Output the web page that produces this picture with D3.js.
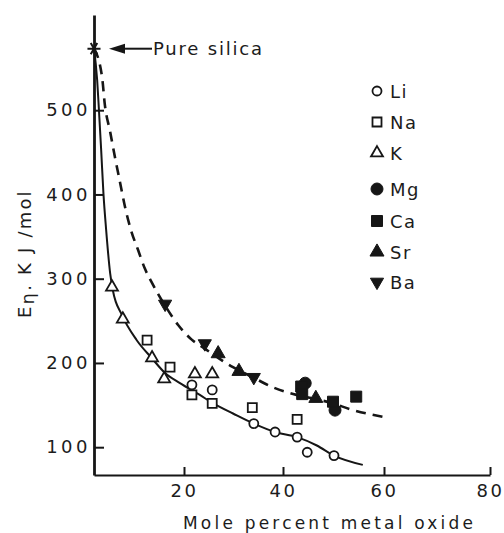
<!DOCTYPE html>
<html>
<head>
<meta charset="utf-8">
<script src="https://cdn.jsdelivr.net/npm/d3@7"></script>
<style>
  body { margin: 0; background: #fff; }
  text { font-family: "DejaVu Sans", sans-serif; fill: #1c1c1c; }
</style>
</head>
<body>
<svg id="chart"></svg>
<script>
// values: [mole percent metal oxide, activation energy kJ/mol]
const li = [[21.6,174],[25.7,168],[34.1,128],[38.4,118],[42.8,112],[44.8,94],[50.1,90]];
const na = [[11.8,227],[16.9,195],[21.6,162],[25.7,152],[33.8,147],[42.8,133]];
const k  = [[4.0,290],[6.4,252],[12.9,206],[15.6,181],[22.2,187],[25.7,187]];
const mg = [[44.4,176],[50.3,144]];
const ca = [[43.6,172],[43.8,163],[49.9,154],[54.5,160]];
const sr = [[26.9,211],[31.1,190],[46.5,158]];
const ba = [[15.8,270],[24.2,223],[34.1,183]];

// fitted curves: solid through alkali data, dashed through alkaline earth data
const solidCurve = [[0,573],[0.7,536],[1.1,500],[1.6,452],[2.1,401],[2.7,358],[3.6,306],[4.2,286],
  [6.2,257],[9.5,227],[12.8,206],[15.8,188],[19.1,176],[23.2,162],[25.9,152],[29.9,140],
  [34.1,128],[38.4,118],[42.8,112],[46.7,102],[50.1,90],[55.8,79]];
const dashedCurve = [[0,573],[1.8,539],[2.4,507],[3.6,474],[4.7,443],[5.8,414],[6.9,385],[8.2,358],
  [9.8,334],[11.3,312],[12.8,296],[15.8,268],[18.7,245],[21.5,228],[24.2,217],[26.9,206],[29.9,195],
  [33.9,183],[38.0,171],[42.0,163],[46.6,157],[49.9,152],[53.3,145],[59.9,136]];

const silica = [0, 573];

const xTicks = [20, 40, 60, 80];
const yTicks = [100, 200, 300, 400, 500];
const metals = ['Li', 'Na', 'K', 'Mg', 'Ca', 'Sr', 'Ba'];
const xTitle = 'Mole percent metal oxide';

const width = 504, height = 533;
const ink = '#161616';

const svg = d3.select('#chart')
  .attr('width', width)
  .attr('height', height);

// the hand drawn axis is not quite even, so the scale follows the drawn ticks
const x = d3.scaleLinear()
  .domain([0, 20, 40, 60, 80])
  .range([94, 184, 283, 384, 490]);

const y = d3.scaleLinear()
  .domain([67, 613])
  .range([475, 15]);

// axes
const xAxisG = svg.append('g')
  .attr('transform', `translate(0,${y(67)})`)
  .call(d3.axisBottom(x).tickValues(xTicks).tickSizeInner(-8).tickSizeOuter(0).tickPadding(9));

const yAxisG = svg.append('g')
  .attr('transform', `translate(${x(0)},0)`)
  .call(d3.axisLeft(y).tickValues(yTicks).tickSizeInner(-10).tickSizeOuter(0).tickPadding(3));

[xAxisG, yAxisG].forEach(g => {
  g.attr('font-family', null).attr('font-size', null);
  g.selectAll('text')
    .style('font-size', '18px')
    .style('letter-spacing', '2.5px')
    .attr('fill', null);
  g.selectAll('line').attr('stroke', ink).attr('stroke-width', 2);
});
xAxisG.select('.domain').attr('stroke', ink).attr('stroke-width', 2.2);
yAxisG.select('.domain').attr('stroke', ink).attr('stroke-width', 2.8);
yAxisG.selectAll('text').style('letter-spacing', '3.5px');

// axis titles
svg.append('text')
  .attr('x', 183)
  .attr('y', 529)
  .attr('textLength', 290)
  .attr('lengthAdjust', 'spacing')
  .style('font-size', '17px')
  .text(xTitle);

const yTitle = svg.append('text')
  .attr('transform', 'translate(31,318) rotate(-90)')
  .style('font-size', '18px')
  .style('letter-spacing', '2.2px');
yTitle.append('tspan').text('E');
yTitle.append('tspan').attr('dy', 3).text('η');
yTitle.append('tspan').attr('dy', -3).text('. K J /mol');

// curves
const line = d3.line()
  .x(d => x(d[0]))
  .y(d => y(d[1]))
  .curve(d3.curveMonotoneX);

svg.append('path')
  .datum(solidCurve)
  .attr('d', line)
  .attr('fill', 'none')
  .attr('stroke', ink)
  .attr('stroke-width', 2);

svg.append('path')
  .datum(dashedCurve)
  .attr('d', line)
  .attr('fill', 'none')
  .attr('stroke', ink)
  .attr('stroke-width', 2.6)
  .attr('stroke-dasharray', '10,7');

// marker styles per metal
const styles = {
  Li: {type: d3.symbolCircle,   size: 64,  fill: false, rot: 0},
  Na: {type: d3.symbolSquare,   size: 81,  fill: false, rot: 0},
  K:  {type: d3.symbolTriangle, size: 62,  fill: false, rot: 0},
  Mg: {type: d3.symbolCircle,   size: 113, fill: true,  rot: 0},
  Ca: {type: d3.symbolSquare,   size: 121, fill: true,  rot: 0},
  Sr: {type: d3.symbolTriangle, size: 85,  fill: true,  rot: 0},
  Ba: {type: d3.symbolTriangle, size: 75,  fill: true,  rot: 180}
};
const series = {Li: li, Na: na, K: k, Mg: mg, Ca: ca, Sr: sr, Ba: ba};

function drawSymbol(sel, name) {
  const s = styles[name];
  sel.append('path')
    .attr('d', d3.symbol().type(s.type).size(s.size))
    .attr('fill', s.fill ? ink : '#fff')
    .attr('stroke', ink)
    .attr('stroke-width', s.fill ? 1 : 1.8);
}

metals.forEach(name => {
  svg.append('g')
    .selectAll('g')
    .data(series[name])
    .join('g')
    .attr('transform', d => `translate(${x(d[0])},${y(d[1])}) rotate(${styles[name].rot})`)
    .each(function() { drawSymbol(d3.select(this), name); });
});

// pure silica point and arrow
svg.append('path')
  .attr('transform', `translate(${x(silica[0])},${y(silica[1])}) rotate(90)`)
  .attr('d', d3.symbol().type(d3.symbolAsterisk).size(120))
  .attr('fill', 'none')
  .attr('stroke', ink)
  .attr('stroke-width', 2);

const ay = y(silica[1]);
svg.append('line')
  .attr('x1', 120).attr('x2', 152)
  .attr('y1', ay).attr('y2', ay)
  .attr('stroke', ink)
  .attr('stroke-width', 2);
svg.append('path')
  .attr('d', `M109,${ay} L125,${ay - 5} L125,${ay + 5} Z`)
  .attr('fill', ink);
svg.append('text')
  .attr('x', 153)
  .attr('y', ay + 6)
  .style('font-size', '18px')
  .style('letter-spacing', '1.8px')
  .text('Pure silica');

// legend
const legendRows = [91, 122, 153, 189, 221, 252, 282];
const legend = svg.append('g');
metals.forEach((name, i) => {
  const row = legend.append('g').attr('transform', `translate(377,${legendRows[i]})`);
  row.append('g')
    .attr('transform', `rotate(${styles[name].rot})`)
    .call(g => drawSymbol(g, name));
  row.append('text')
    .attr('x', 13)
    .attr('y', 6.5)
    .style('font-size', '18px')
    .style('letter-spacing', '1.5px')
    .text(name);
});
</script>
</body>
</html>
